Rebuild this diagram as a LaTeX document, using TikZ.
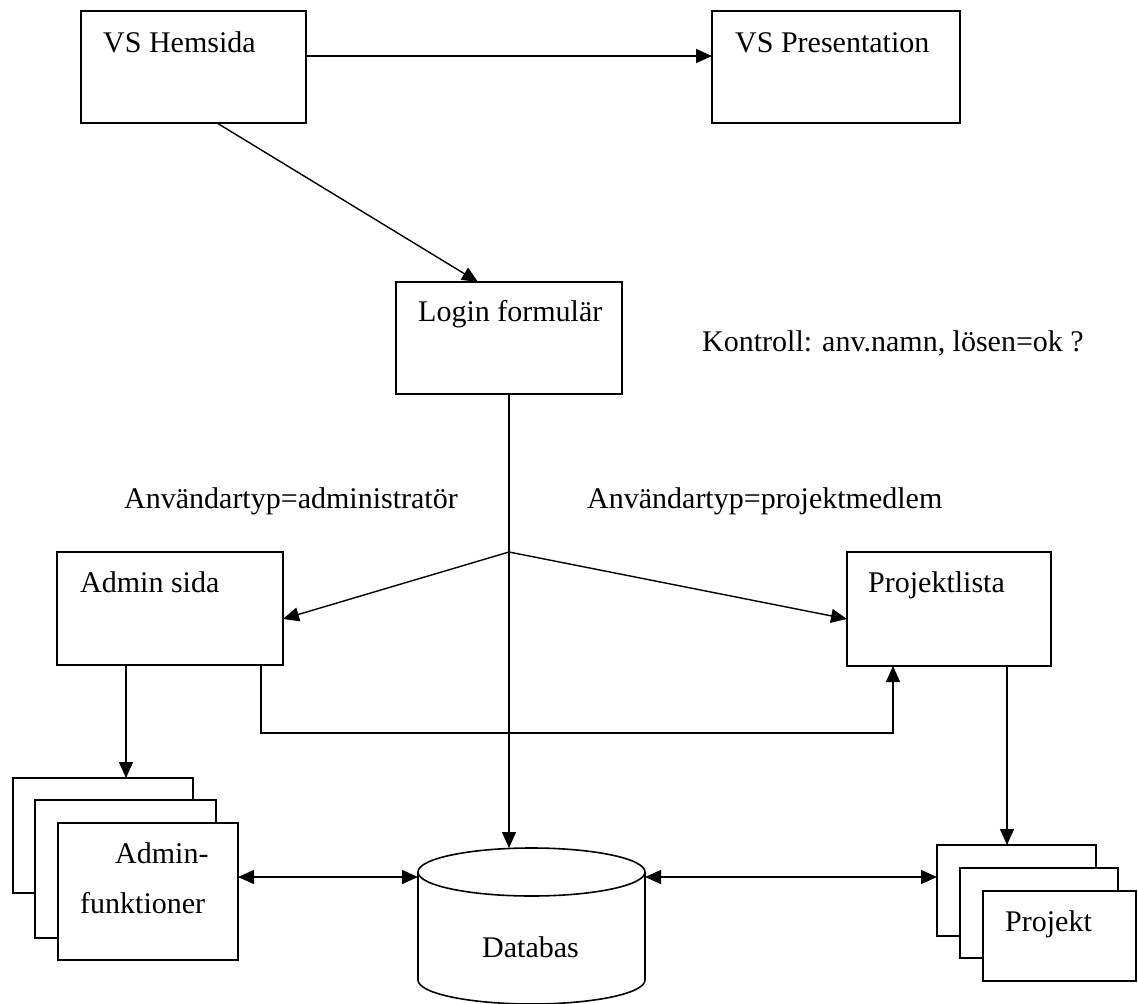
\documentclass[tikz,border=0pt]{standalone}
\usepackage{fontspec}
\setmainfont{Liberation Serif}
\usetikzlibrary{arrows.meta,calc}
\begin{document}
\begin{tikzpicture}[x=1pt,y=-1pt,
  box/.style={draw, line width=1.6pt, fill=white, inner sep=0pt, outer sep=0pt},
  lbl/.style={anchor=base west, inner sep=0pt, font=\fontsize{30}{36}\selectfont},
  conn/.style={line width=1.4pt},
  arr/.style={conn, -{Triangle[length=16pt,width=14pt]}},
  darr/.style={conn, {Triangle[length=16pt,width=14pt]}-{Triangle[length=16pt,width=14pt]}}]
\fill[white] (0,0) rectangle (1138,1004);
\useasboundingbox (0,0) rectangle (1138,1004);

% boxes
\node[box, minimum width=225pt, minimum height=112pt] (hem) at (193.5,67) {};
\node[box, minimum width=248pt, minimum height=112pt] (pres) at (836,67) {};
\node[box, minimum width=226pt, minimum height=112pt] (login) at (509,338) {};
\node[box, minimum width=226pt, minimum height=113pt] (admin) at (170,608.5) {};
\node[box, minimum width=204pt, minimum height=114pt] (plista) at (949,609) {};
% admin function stack
\node[box, minimum width=180pt, minimum height=115pt] (af1) at (103,835.5) {};
\node[box, minimum width=181pt, minimum height=138pt] (af2) at (125.5,869) {};
\node[box, minimum width=180pt, minimum height=137pt] (af3) at (148,891.5) {};
% project stack
\node[box, minimum width=159pt, minimum height=91pt] (p1) at (1016.5,890.5) {};
\node[box, minimum width=158pt, minimum height=90pt] (p2) at (1039,913) {};
\node[box, minimum width=153pt, minimum height=90pt] (p3) at (1059.5,936) {};
% database cylinder
\node[inner sep=0pt, outer sep=0pt, minimum width=227pt, minimum height=156pt] (db) at (531.5,926) {};
\draw[line width=1.6pt] ([yshift=-24pt]db.north west) -- ([yshift=24pt]db.south west)
  arc[start angle=180, end angle=360, x radius=113.5pt, y radius=24pt]
  -- ([yshift=-24pt]db.north east);
\draw[line width=1.6pt] ([yshift=-24pt]db.north) ellipse[x radius=113.5pt, y radius=24pt];

% texts
\node[lbl] (t1) at (103,52) {VS Hemsida};
\node[lbl] (t2) at (735,52) {VS Presentation};
\node[lbl] (t3) at (418,321) {Login formulär};
\node[lbl] (t4) at (702,351) {Kontroll: anv.namn, lösen=ok ?};
\node[lbl] (t5) at (124,508) {Användartyp=administratör};
\node[lbl] (t6) at (587,508) {Användartyp=projektmedlem};
\node[lbl] (t7) at (80,592) {Admin sida};
\node[lbl] (t8) at (868,592) {Projektlista};
\node[lbl] (t9) at (115,863) {Admin-};
\node[lbl] (t10) at (80,913) {funktioner};
\node[lbl] (t11) at (482,957) {Databas};
\node[lbl] (t12) at (1005,931) {Projekt};

% connectors
\draw[arr] ([yshift=11pt]hem.east) -- ([yshift=11pt]pres.west);
\draw[arr] ([xshift=23.5pt]hem.south) -- ([xshift=-31pt]login.north);
\coordinate (j) at (509,552);
\draw[arr] (login.south) -- (login.south |- db.north);
\draw[arr] (j) -- ([yshift=-10.5pt]admin.east);
\draw[arr] (j) -- ([yshift=-10pt]plista.west);
\draw[arr] ([xshift=-44pt]admin.south) -- ([xshift=23pt]af1.north);
\draw[arr] ([xshift=91pt]admin.south) -- ++(0,68) -| ([xshift=-56pt]plista.south);
\draw[arr] ([xshift=58pt]plista.south) -- ([xshift=-9.5pt]p1.north);
\coordinate (dbl) at ([yshift=49pt]db.west);
\coordinate (dbr) at ([yshift=49pt]db.east);
\draw[darr] (dbl -| af3.east) -- (dbl);
\draw[darr] (dbr) -- (dbr -| p1.west);
\end{tikzpicture}
\end{document}
